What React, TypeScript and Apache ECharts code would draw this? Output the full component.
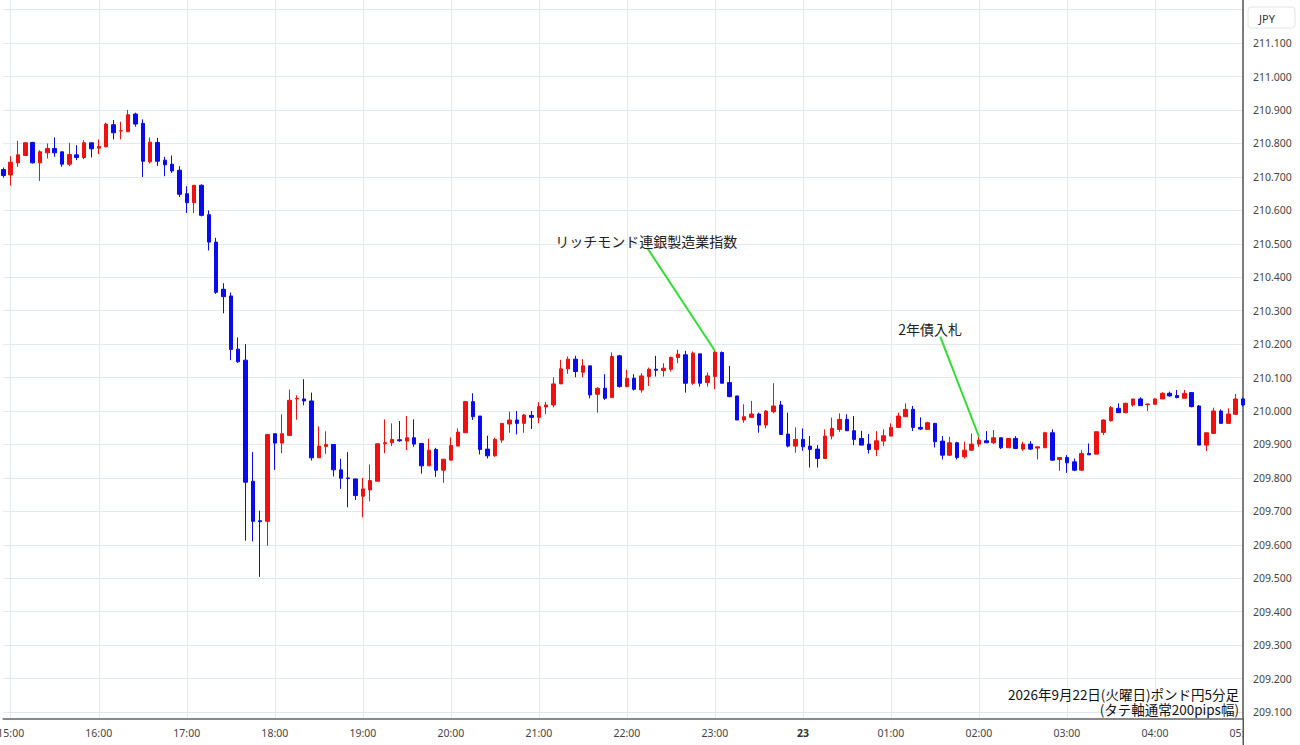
import React, { useEffect, useRef } from "react";
import * as echarts from "echarts";

// 5-minute bars, 14:55 -> 05:00 (GBP/JPY)
const firstBarMinutes = 14 * 60 + 55;
const barCount = 170;
const times: string[] = Array.from({ length: barCount }, (_, i) => {
  const m = (firstBarMinutes + i * 5) % (24 * 60);
  return `${String(Math.floor(m / 60)).padStart(2, "0")}:${String(m % 60).padStart(2, "0")}`;
});

const openPrices = [
  210.722, 210.706, 210.742, 210.764, 210.803, 210.742, 210.772, 210.785, 210.775, 210.738, 210.766,
  210.758, 210.802, 210.786, 210.790, 210.856, 210.837, 210.835, 210.888, 210.860, 210.745,
  210.803, 210.750, 210.738, 210.720, 210.650, 210.623, 210.675, 210.587, 210.505, 210.364,
  210.344, 210.185, 210.152, 209.790, 209.672, 209.670, 209.932, 209.904, 209.927, 210.036,
  210.036, 210.030, 209.860, 209.894, 209.900, 209.824, 209.800, 209.797, 209.745, 209.764,
  209.790, 209.902, 209.905, 209.914, 209.910, 209.920, 209.903, 209.836, 209.885, 209.823,
  209.853, 209.895, 209.935, 210.028, 209.985, 209.886, 209.866, 209.913, 209.961, 209.973,
  209.963, 209.987, 209.981, 210.012, 210.018, 210.081, 210.126, 210.155, 210.116, 210.135,
  210.050, 210.068, 210.040, 210.165, 210.073, 210.098, 210.063, 210.103, 210.125, 210.121,
  210.125, 210.160, 210.168, 210.083, 210.171, 210.085, 210.103, 210.175, 210.085, 210.045,
  209.973, 209.981, 209.991, 209.958, 209.998, 210.018, 209.931, 209.895, 209.915, 209.895,
  209.886, 209.858, 209.925, 209.945, 209.975, 209.941, 209.918, 209.901, 209.885, 209.910,
  209.925, 209.951, 209.983, 210.005, 209.951, 209.945, 209.963, 209.910, 209.868, 209.905,
  209.863, 209.883, 209.901, 209.911, 209.905, 209.920, 209.890, 209.918, 209.886, 209.901,
  209.889, 209.890, 209.935, 209.855, 209.861, 209.848, 209.823, 209.873, 209.871, 209.936,
  209.971, 210.008, 209.995, 210.018, 210.036, 210.019, 210.020, 210.036, 210.053, 210.046,
  210.038, 210.055, 210.015, 209.898, 209.933, 210.000, 209.963, 209.990, 210.036,
];

const closePrices = [
  210.704, 210.744, 210.766, 210.802, 210.742, 210.775, 210.785, 210.772, 210.738, 210.767, 210.758,
  210.802, 210.784, 210.791, 210.858, 210.832, 210.838, 210.886, 210.858, 210.747, 210.804,
  210.747, 210.736, 210.718, 210.648, 210.623, 210.675, 210.585, 210.505, 210.355, 210.342,
  210.184, 210.147, 209.787, 209.670, 209.669, 209.930, 209.904, 209.932, 210.032, 210.038,
  210.030, 209.860, 209.895, 209.900, 209.824, 209.799, 209.798, 209.747, 209.767, 209.792,
  209.902, 209.905, 209.915, 209.911, 209.920, 209.901, 209.836, 209.883, 209.823, 209.856,
  209.897, 209.937, 210.028, 209.983, 209.885, 209.866, 209.915, 209.963, 209.973, 209.963,
  209.988, 209.981, 210.013, 210.018, 210.081, 210.126, 210.155, 210.118, 210.135, 210.048,
  210.068, 210.038, 210.163, 210.073, 210.098, 210.065, 210.105, 210.125, 210.122, 210.128,
  210.160, 210.170, 210.083, 210.173, 210.083, 210.105, 210.176, 210.083, 210.043, 209.973,
  209.983, 209.991, 209.958, 210.000, 210.015, 209.930, 209.895, 209.915, 209.893, 209.885,
  209.858, 209.925, 209.948, 209.975, 209.941, 209.915, 209.898, 209.885, 209.911, 209.926,
  209.951, 209.985, 210.005, 209.951, 209.946, 209.965, 209.908, 209.868, 209.905, 209.861,
  209.883, 209.901, 209.913, 209.905, 209.920, 209.890, 209.918, 209.888, 209.901, 209.886,
  209.893, 209.935, 209.853, 209.861, 209.845, 209.823, 209.873, 209.869, 209.938, 209.973,
  210.010, 209.995, 210.023, 210.036, 210.016, 210.021, 210.036, 210.053, 210.045, 210.040,
  210.053, 210.013, 209.898, 209.935, 210.000, 209.963, 209.991, 210.036, 210.018,
];

const highPrices = [
  210.728, 210.762, 210.808, 210.804, 210.805, 210.780, 210.800, 210.818, 210.775, 210.802, 210.795,
  210.810, 210.802, 210.812, 210.862, 210.870, 210.865, 210.900, 210.892, 210.872, 210.818,
  210.817, 210.760, 210.764, 210.732, 210.672, 210.675, 210.678, 210.600, 210.518, 210.382,
  210.354, 210.220, 210.200, 209.877, 209.702, 209.930, 209.932, 209.990, 210.064, 210.047,
  210.095, 210.055, 209.954, 209.939, 209.900, 209.857, 209.877, 209.797, 209.800, 209.840,
  209.902, 209.975, 209.963, 209.970, 209.985, 209.975, 209.903, 209.917, 209.890, 209.856,
  209.921, 209.948, 210.028, 210.053, 209.985, 209.926, 209.920, 209.963, 209.998, 210.000,
  209.991, 210.000, 210.027, 210.027, 210.101, 210.153, 210.163, 210.165, 210.155, 210.135,
  210.071, 210.110, 210.175, 210.168, 210.123, 210.110, 210.113, 210.130, 210.165, 210.143,
  210.163, 210.183, 210.180, 210.178, 210.171, 210.115, 210.180, 210.178, 210.135, 210.045,
  210.020, 210.030, 209.995, 210.003, 210.083, 210.030, 209.995, 209.951, 209.948, 209.925,
  209.898, 209.945, 209.980, 209.993, 209.990, 209.985, 209.941, 209.931, 209.940, 209.945,
  209.963, 209.995, 210.023, 210.015, 209.981, 209.968, 209.963, 209.925, 209.923, 209.908,
  209.908, 209.933, 209.923, 209.940, 209.943, 209.920, 209.918, 209.925, 209.908, 209.910,
  209.893, 209.938, 209.945, 209.861, 209.868, 209.858, 209.883, 209.903, 209.938, 209.975,
  210.015, 210.023, 210.025, 210.036, 210.041, 210.021, 210.038, 210.056, 210.058, 210.063,
  210.063, 210.055, 210.018, 209.935, 210.010, 210.005, 210.008, 210.051, 210.040,
];

const lowPrices = [
  210.698, 210.674, 210.730, 210.762, 210.740, 210.688, 210.755, 210.760, 210.730, 210.732, 210.750,
  210.753, 210.758, 210.768, 210.788, 210.812, 210.812, 210.835, 210.850, 210.700, 210.740,
  210.733, 210.702, 210.712, 210.640, 210.592, 210.592, 210.582, 210.480, 210.350, 210.292,
  210.152, 210.144, 209.612, 209.610, 209.504, 209.597, 209.824, 209.874, 209.927, 209.974,
  210.017, 209.852, 209.860, 209.872, 209.804, 209.767, 209.712, 209.734, 209.682, 209.730,
  209.790, 209.874, 209.895, 209.908, 209.883, 209.893, 209.813, 209.836, 209.803, 209.785,
  209.853, 209.895, 209.935, 209.973, 209.870, 209.858, 209.863, 209.905, 209.935, 209.930,
  209.935, 209.946, 209.963, 209.991, 210.011, 210.081, 210.111, 210.101, 210.101, 210.038,
  209.995, 210.033, 210.040, 210.070, 210.071, 210.061, 210.055, 210.075, 210.103, 210.103,
  210.118, 210.143, 210.055, 210.078, 210.073, 210.073, 210.065, 210.083, 210.041, 209.973,
  209.965, 209.981, 209.935, 209.948, 209.993, 209.930, 209.891, 209.875, 209.881, 209.831,
  209.831, 209.858, 209.915, 209.938, 209.941, 209.898, 209.898, 209.873, 209.865, 209.895,
  209.925, 209.951, 209.983, 209.940, 209.943, 209.945, 209.891, 209.855, 209.865, 209.855,
  209.858, 209.881, 209.893, 209.905, 209.901, 209.886, 209.890, 209.886, 209.881, 209.883,
  209.855, 209.890, 209.851, 209.821, 209.815, 209.820, 209.821, 209.869, 209.871, 209.928,
  209.968, 209.995, 209.993, 210.013, 210.016, 210.000, 210.020, 210.036, 210.043, 210.038,
  210.038, 210.011, 209.898, 209.880, 209.933, 209.963, 209.963, 209.988, 210.013,
];

// price axis
const priceLabels = [
  209.1, 209.2, 209.3, 209.4, 209.5, 209.6, 209.7, 209.8, 209.9, 210.0, 210.1,
  210.2, 210.3, 210.4, 210.5, 210.6, 210.7, 210.8, 210.9, 211.0, 211.1,
];
const priceGridLines = [...priceLabels, 211.2];

// event notes, pointing at the high of the bar
const eventLabels = ["リッチモンド連銀製造業指数", "2年債入札"];
const eventTimes = ["23:00", "02:00"];

const captionLines = ["2026年9月22日(火曜日)ポンド円5分足", "(タテ軸通常200pips幅)"];

const UP = "#f01010";
const DOWN = "#0a0af0";
const GRID = "#e2e9ef";
const JP_FONT = "'Noto Sans CJK JP', 'Noto Sans', sans-serif";
const AXIS_FONT = "'Noto Sans', sans-serif";

const App: React.FC = () => {
  const chartRef = useRef<HTMLDivElement>(null);

  useEffect(() => {
    if (!chartRef.current) return;
    const chart = echarts.init(chartRef.current, null, { renderer: "svg" });

    const isHour = (_: number, value: string) => value.endsWith(":00");

    chart.setOption({
      animation: false,
      backgroundColor: "#ffffff",
      grid: {
        left: 3.4,
        right: 57,
        top: 0,
        bottom: 26,
        containLabel: false,
        outerBoundsMode: "none",
      },
      xAxis: {
        type: "category",
        data: times,
        boundaryGap: false,
        axisLine: { show: true, lineStyle: { color: "#8a8a8a", width: 2 } },
        axisTick: { show: false },
        axisLabel: {
          interval: isHour,
          margin: 8,
          color: "#444",
          fontSize: 10.5,
          fontFamily: AXIS_FONT,
          hideOverlap: false,
          formatter: (v: string) => (v === "00:00" ? "{d|23}" : v),
          rich: {
            d: { fontWeight: "bold", color: "#333", fontSize: 10.5, fontFamily: AXIS_FONT },
          },
        },
        splitLine: { show: true, interval: isHour, lineStyle: { color: GRID, width: 1 } },
      },
      yAxis: {
        type: "value",
        position: "right",
        min: 209.079,
        max: 211.229,
        axisLine: { show: true, lineStyle: { color: "#555", width: 1.5 } },
        axisTick: { show: false, customValues: priceGridLines },
        axisLabel: {
          customValues: priceLabels,
          margin: 10,
          color: "#444",
          fontSize: 10.5,
          fontFamily: AXIS_FONT,
          formatter: (v: number) => v.toFixed(3),
        },
        splitLine: { show: true, lineStyle: { color: GRID, width: 1 } },
      },
      series: [
        {
          type: "candlestick",
          data: times.map((_, k) => [openPrices[k], closePrices[k], lowPrices[k], highPrices[k]]),
          barWidth: 4,
          itemStyle: {
            color: UP,
            color0: DOWN,
            borderColor: UP,
            borderColor0: DOWN,
            borderWidth: 1,
          },
        },
      ],
    });

    // notes are placed relative to the bar they point at
    const noteOffsets = [
      { text: [-68.7, -110.3], line: [-67.4, -102.5] },
      { text: [-48.7, -107.8], line: [-38.7, -100.1] },
    ];
    const notes: any[] = [];
    eventLabels.forEach((label, n) => {
      const idx = times.indexOf(eventTimes[n]);
      const [px, py] = chart.convertToPixel({ gridIndex: 0 }, [idx, highPrices[idx]]) as number[];
      const off = noteOffsets[n];
      notes.push({
        type: "line",
        z: 20,
        shape: { x1: px + off.line[0], y1: py + off.line[1], x2: px, y2: py },
        style: { stroke: "#33dd33", lineWidth: 2 },
      });
      notes.push({
        type: "text",
        z: 20,
        x: px + off.text[0],
        y: py + off.text[1],
        style: {
          text: label,
          fill: "#222",
          fontSize: 14,
          fontFamily: JP_FONT,
          align: "center",
          verticalAlign: "middle",
        },
      });
    });

    chart.setOption({
      graphic: [
        ...notes,
        // price scale panel: cover the time label that runs past the axis
        {
          type: "rect",
          z: 30,
          shape: { x: 1244, y: 720, width: 56, height: 25 },
          style: { fill: "#ffffff" },
        },
        {
          type: "line",
          z: 31,
          shape: { x1: 1243.25, y1: 718, x2: 1243.25, y2: 745 },
          style: { stroke: "#555", lineWidth: 1.5 },
        },
        {
          type: "rect",
          z: 30,
          shape: { x: 1248, y: 7, width: 47, height: 21, r: 3 },
          style: { fill: "#ffffff", stroke: "#e4e4e4", lineWidth: 1 },
        },
        {
          type: "text",
          z: 31,
          x: 1267,
          y: 18,
          style: {
            text: "JPY",
            fill: "#333",
            fontSize: 11,
            fontFamily: AXIS_FONT,
            align: "center",
            verticalAlign: "middle",
          },
        },
        ...captionLines.map((line, n) => ({
          type: "text",
          z: 25,
          x: 1239,
          y: 693.5 + n * 15.5,
          style: {
            text: line,
            fill: "#111",
            fontSize: 13.5,
            fontFamily: JP_FONT,
            align: "right",
            verticalAlign: "middle",
          },
        })),
      ],
    });

    const handleResize = () => chart.resize();
    window.addEventListener("resize", handleResize);
    return () => {
      window.removeEventListener("resize", handleResize);
      chart.dispose();
    };
  }, []);

  return (
    <div
      ref={chartRef}
      style={{ position: "fixed", left: 0, top: 0, width: "1300px", height: "745px" }}
    />
  );
};

export default App;
